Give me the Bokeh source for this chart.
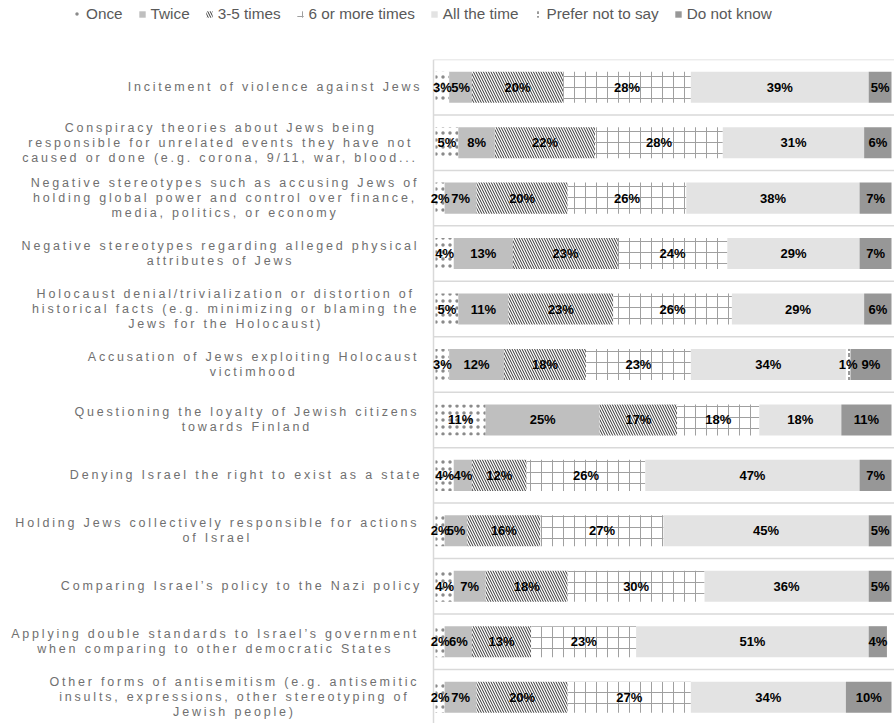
import numpy as np
from bokeh.plotting import figure
from bokeh.models import (ColumnDataSource, Range1d, Legend, LegendItem, InlineStyleSheet)
from bokeh.layouts import column, row
from bokeh.core.properties import value
from bokeh.embed import file_html
from bokeh.resources import INLINE

# ---------------- data ----------------
categories = [
    "Incitement of violence against Jews",
    "Conspiracy theories about Jews being\nresponsible for unrelated events they have not\ncaused or done (e.g. corona, 9/11, war, blood...",
    "Negative stereotypes such as accusing Jews of\nholding global power and control over finance,\nmedia, politics, or economy",
    "Negative stereotypes regarding alleged physical\nattributes of Jews",
    "Holocaust denial/trivialization or distortion of\nhistorical facts (e.g. minimizing or blaming the\nJews for the Holocaust)",
    "Accusation of Jews exploiting Holocaust\nvictimhood",
    "Questioning the loyalty of Jewish citizens\ntowards Finland",
    "Denying Israel the right to exist as a state",
    "Holding Jews collectively responsible for actions\nof Israel",
    "Comparing Israel\u2019s policy to the Nazi policy",
    "Applying double standards to Israel\u2019s government\nwhen comparing to other democratic States",
    "Other forms of antisemitism (e.g. antisemitic\ninsults, expressions, other stereotyping of\nJewish people)",
]
series_names = ["Once", "Twice", "3-5 times", "6 or more times",
                "All the time", "Prefer not to say", "Do not know"]
once         = [3, 5, 2, 4, 5, 3, 11, 4, 2, 4, 2, 2]
twice        = [5, 8, 7, 13, 11, 12, 25, 4, 5, 7, 6, 7]
three_five   = [20, 22, 20, 23, 23, 18, 17, 12, 16, 18, 13, 20]
six_or_more  = [28, 28, 26, 24, 26, 23, 18, 26, 27, 30, 23, 27]
all_the_time = [39, 31, 38, 29, 29, 34, 18, 47, 45, 36, 51, 34]
prefer_not   = [0, 0, 0, 0, 0, 1, 0, 0, 0, 0, 0, 0]
do_not_know  = [5, 6, 7, 7, 6, 9, 11, 7, 5, 5, 4, 10]
series_values = [once, twice, three_five, six_or_more, all_the_time, prefer_not, do_not_know]

# ---------------- styles ----------------
styles = [
    dict(fill_color="white", hatch_pattern=".", hatch_color="#8a8a8a", hatch_scale=7, hatch_weight=0.5),
    dict(fill_color="#bfbfbf"),
    dict(fill_color="white", hatch_pattern="\\", hatch_color="#333333", hatch_scale=5, hatch_weight=1),
    dict(fill_color="white", hatch_pattern="+", hatch_color="#a0a0a0", hatch_scale=11, hatch_weight=1),
    dict(fill_color="#e3e3e3"),
    dict(fill_color="white", hatch_pattern=":", hatch_color="#333333", hatch_scale=6, hatch_weight=1),
    dict(fill_color="#979797"),
]

TOTAL_W, TOP_H, BODY_H = 894, 59, 664
LABEL_W = 425
BAR_W = TOTAL_W - LABEL_W
BAND_PX = 55.45
PX_PER_PCT = 4.56
ZERO_OFF = 10          # px from bar-figure left edge to 0 %
AXIS_OFF = 8           # px from bar-figure left edge to the axis line
n = len(categories)
ypos = [i + 0.5 for i in range(n)]
y_range = Range1d(start=BODY_H / BAND_PX, end=0)
x_start = -ZERO_OFF / PX_PER_PCT
x_end = x_start + BAR_W / PX_PER_PCT
x_axis = (AXIS_OFF - ZERO_OFF) / PX_PER_PCT

# ---------------- bar figure ----------------
bar_fig = figure(width=BAR_W, height=BODY_H, x_range=Range1d(x_start, x_end), y_range=y_range,
                 output_backend="svg", toolbar_location=None,
                 x_axis_location=None, y_axis_location=None, min_border=0,
                 outline_line_color=None)
bar_fig.grid.visible = False

bounds = list(range(n + 1))
bar_fig.segment(x0=[x_axis] * len(bounds), x1=[x_end] * len(bounds), y0=bounds, y1=bounds,
                line_color="#d9d9d9", line_width=1.5)
bar_fig.segment(x0=[x_axis], x1=[x_axis], y0=[0], y1=[y_range.start],
                line_color="#d9d9d9", line_width=1.5)

vals = np.array(series_values, dtype=float)
cum = np.cumsum(vals, axis=0)
lab_x, lab_y, lab_t = [], [], []
for k, name in enumerate(series_names):
    left = cum[k] - vals[k]
    right = cum[k]
    src = ColumnDataSource(dict(y=ypos, left=left, right=right))
    bar_fig.hbar(y="y", left="left", right="right", height=0.56, source=src,
                 line_color=None, **styles[k])
    for i in range(n):
        if vals[k][i] > 0:
            lab_x.append((left[i] + right[i]) / 2)
            lab_y.append(ypos[i])
            lab_t.append(f"{int(vals[k][i])}%")

bar_fig.text(x=lab_x, y=lab_y, text=lab_t, text_font=value("Liberation Sans"),
             text_font_size="13px", text_font_style="bold", text_color="black",
             text_align="center", text_baseline="middle")

# ---------------- label figure ----------------
ARIAL = {' ': 278, '!': 278, '(': 333, ')': 333, ',': 278, '-': 333, '.': 278, '/': 278,
         ':': 278, "'": 191, '\u2019': 222,
         'A': 667, 'B': 667, 'C': 722, 'D': 722, 'E': 667, 'F': 611, 'G': 778, 'H': 722,
         'I': 278, 'J': 500, 'K': 667, 'L': 556, 'M': 833, 'N': 722, 'O': 778, 'P': 667,
         'Q': 778, 'R': 722, 'S': 667, 'T': 611, 'U': 722, 'V': 667, 'W': 944, 'X': 667,
         'Y': 667, 'Z': 611,
         'a': 556, 'b': 556, 'c': 500, 'd': 556, 'e': 556, 'f': 278, 'g': 556, 'h': 556,
         'i': 222, 'j': 222, 'k': 500, 'l': 222, 'm': 833, 'n': 556, 'o': 556, 'p': 556,
         'q': 556, 'r': 333, 's': 500, 't': 278, 'u': 556, 'v': 500, 'w': 722, 'x': 500,
         'y': 500, 'z': 500}
FS = 12.5
LS = 2.8
LINE_H = 15.0


def text_w(s):
    base = sum(ARIAL.get(c, 556) for c in s) * FS / 1000.0
    return base + LS * (len(s) - 1)


tx, ty, tt, toff = [], [], [], []
for i, cat in enumerate(categories):
    lines = cat.split("\n")
    k = len(lines)
    widths = [text_w(s) for s in lines]
    if k == 1:
        center = 419.0 - widths[0] / 2
    else:
        center = 416.0 - max(widths) / 2
    for j, (s, w) in enumerate(zip(lines, widths)):
        tx.append(center - w / 2)
        ty.append(ypos[i])
        tt.append(s)
        toff.append((j - (k - 1) / 2) * LINE_H)

label_fig = figure(width=LABEL_W, height=BODY_H, x_range=Range1d(0, LABEL_W), y_range=y_range,
                   output_backend="svg", toolbar_location=None,
                   x_axis_location=None, y_axis_location=None, min_border=0,
                   outline_line_color=None,
                   stylesheets=[InlineStyleSheet(css=f":host {{ letter-spacing: {LS}px; }}")])
label_fig.grid.visible = False
label_fig.text(x="x", y="y", text="text", y_offset="off",
               source=ColumnDataSource(dict(x=tx, y=ty, text=tt, off=toff)),
               text_font=value("Liberation Sans"), text_font_size=f"{FS}px",
               text_color="#707070", text_align="left", text_baseline="middle")

# ---------------- legend figure ----------------
top_fig = figure(width=TOTAL_W, height=TOP_H, x_range=Range1d(0, 1), y_range=Range1d(0, 1),
                 output_backend="svg", toolbar_location=None,
                 x_axis_location=None, y_axis_location=None, min_border=0,
                 outline_line_color=None)
top_fig.grid.visible = False
items = []
for k, name in enumerate(series_names):
    r = top_fig.hbar(y=[10], left=[10], right=[11], height=0.5, line_color=None, **styles[k])
    items.append(LegendItem(label=name, renderers=[r]))
legend = Legend(items=items, orientation="horizontal", location=(73, 36),
                border_line_color=None, background_fill_alpha=0, padding=0, margin=0,
                spacing=15, label_standoff=5, glyph_width=8, glyph_height=8,
                label_height=16, label_text_font="Liberation Sans",
                label_text_font_size="15.3px", label_text_color="#595959")
top_fig.add_layout(legend, "center")

p = column(top_fig, row(label_fig, bar_fig, spacing=0), spacing=0)

open("out.html", "w").write(file_html(p, INLINE))
